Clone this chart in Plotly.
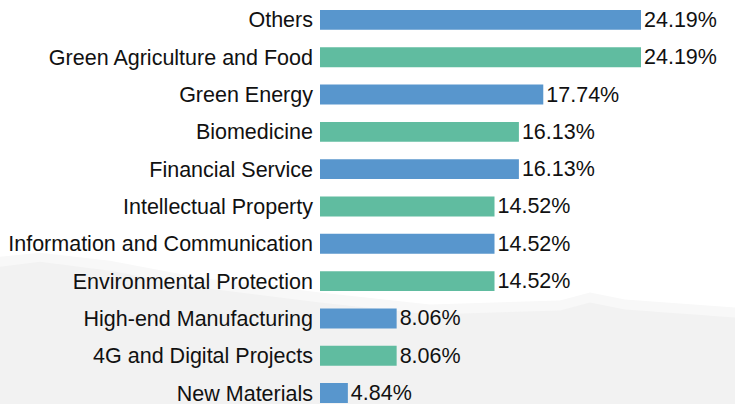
import plotly.graph_objects as go

categories = [
    "Others",
    "Green Agriculture and Food",
    "Green Energy",
    "Biomedicine",
    "Financial Service",
    "Intellectual Property",
    "Information and Communication",
    "Environmental Protection",
    "High-end Manufacturing",
    "4G and Digital Projects",
    "New Materials",
]
values = [24.19, 24.19, 17.74, 16.13, 16.13, 14.52, 14.52, 14.52, 8.06, 8.06, 4.84]
palette = ["#5896cd", "#60bca0"]
bar_colors = [palette[i % 2] for i in range(len(categories))]

W, H = 735, 406
ML, MR = 320, 6
PW = W - ML - MR
FONT = "Liberation Sans, Arial, sans-serif"


def to_paper(px, py):
    return (px - ML) / PW, (H - py) / H


def make_path(pts):
    s = ""
    for i, (px, py) in enumerate(pts):
        x, y = to_paper(px, py)
        s += ("M" if i == 0 else "L") + f"{x:.4f},{y:.4f} "
    return s + "Z"


hill_outer = [(0, 258), (40, 254), (110, 262), (200, 279), (320, 294), (430, 306),
              (560, 302), (590, 294), (625, 301), (735, 309), (735, 406), (0, 406)]
hill_inner = [(0, 268), (40, 263), (110, 272), (200, 289), (320, 304), (430, 316),
              (560, 312), (590, 304), (625, 311), (735, 319), (735, 406), (0, 406)]

fig = go.Figure(
    go.Bar(
        x=values,
        y=categories,
        orientation="h",
        marker=dict(color=bar_colors, line=dict(width=0)),
        width=0.533,
        text=[f"{v:.2f}%" for v in values],
        textposition="outside",
        constraintext="none",
        cliponaxis=False,
        textfont=dict(size=21.5, color="#111111", family=FONT),
        hoverinfo="skip",
    )
)

fig.update_layout(
    width=W,
    height=H,
    margin=dict(l=ML, r=MR, t=0, b=0, pad=0),
    paper_bgcolor="white",
    plot_bgcolor="rgba(0,0,0,0)",
    showlegend=False,
    font=dict(family=FONT, size=21.5, color="#111111"),
    shapes=[
        dict(type="path", xref="paper", yref="paper", path=make_path(hill_outer),
             fillcolor="#f8f8f8", line=dict(width=0), layer="below"),
        dict(type="path", xref="paper", yref="paper", path=make_path(hill_inner),
             fillcolor="#f2f2f2", line=dict(width=0), layer="below"),
    ],
    xaxis=dict(range=[3, 30], visible=False, fixedrange=True),
    yaxis=dict(
        type="category",
        categoryorder="array",
        categoryarray=categories,
        range=[10.293, -0.533],
        showgrid=False,
        zeroline=False,
        showline=False,
        ticks="",
        ticklabelstandoff=6,
        tickfont=dict(size=21.5, color="#111111", family=FONT),
        fixedrange=True,
    ),
)

fig.write_html("out.html")
